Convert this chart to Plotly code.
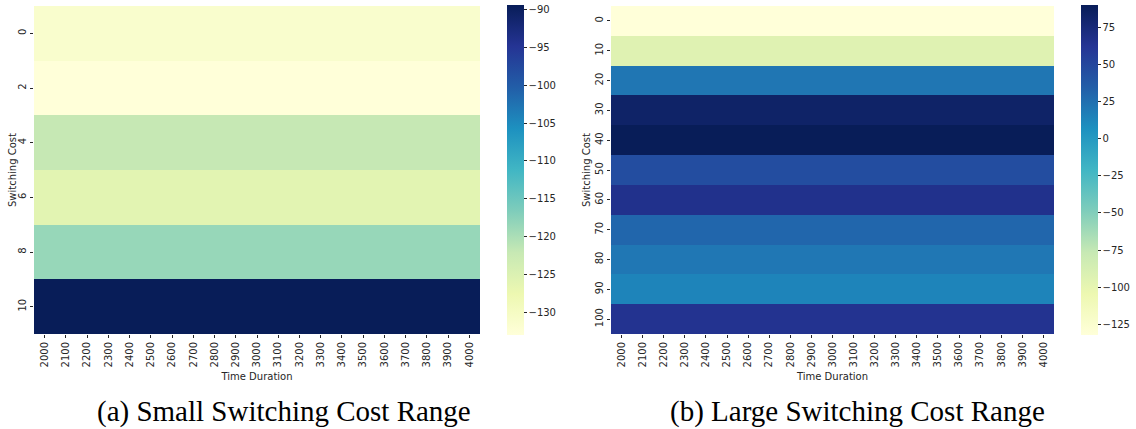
import plotly.graph_objects as go

time_duration = [str(t) for t in range(2000, 4001, 100)]

small_costs = ["0", "2", "4", "6", "8", "10"]
small_values = [-131.3, -133.0, -122.0, -126.0, -118.5, -89.4]

large_costs = ["0", "10", "20", "30", "40", "50", "60", "70", "80", "90", "100"]
large_values = [-132.2, -94.0, 21.5, 83.0, 90.0, 46.0, 66.0, 30.0, 21.0, 14.0, 64.0]

small_range = (-133.0, -89.4)
large_range = (-132.2, 90.0)

titles = ["(a) Small Switching Cost Range", "(b) Large Switching Cost Range"]
x_title = "Time Duration"
y_title = "Switching Cost"

ylgnbu = ["#ffffd9", "#edf8b1", "#c7e9b4", "#7fcdbb", "#41b6c4",
          "#1d91c0", "#225ea8", "#253494", "#081d58"]
colorscale = [[i / 8, c] for i, c in enumerate(ylgnbu)]

W, H = 1136, 429
def px(x):
    return x / W
def py(y):
    return 1 - y / H

fig = go.Figure()

tickfont = dict(family="DejaVu Sans", size=10, color="#262626")
titlefont = dict(family="DejaVu Sans", size=10, color="#262626")

def cbar(x_left, tick0, dtick):
    return dict(x=px(x_left), xanchor="left", thickness=17, len=330 / H,
                y=py(170), yanchor="middle", outlinewidth=0,
                xpad=0, ypad=0,
                ticks="outside", ticklen=3, tickcolor="#262626",
                tick0=tick0, dtick=dtick, tickfont=tickfont)

fig.add_trace(go.Heatmap(
    x=time_duration, y=small_costs,
    z=[[v] * len(time_duration) for v in small_values],
    colorscale=colorscale, zmin=small_range[0], zmax=small_range[1],
    xaxis="x", yaxis="y",
    colorbar=cbar(507, -130, 5),
))
fig.add_trace(go.Heatmap(
    x=time_duration, y=large_costs,
    z=[[v] * len(time_duration) for v in large_values],
    colorscale=colorscale, zmin=large_range[0], zmax=large_range[1],
    xaxis="x2", yaxis="y2",
    colorbar=cbar(1081, -125, 25),
))

axis_common = dict(showgrid=False, zeroline=False, showline=False,
                   ticks="outside", ticklen=3, tickcolor="#262626",
                   tickfont=tickfont, automargin=False)
ydom = [py(334), py(6)]

def ylab(x):
    return dict(text=y_title, x=px(x), y=py(170), xref="paper", yref="paper",
                xanchor="center", yanchor="middle", showarrow=False, textangle=-90,
                font=titlefont)

def cap(text, x):
    return dict(text=text, x=px(x), y=py(411), xref="paper", yref="paper",
                xanchor="center", yanchor="middle", showarrow=False,
                font=dict(family="Liberation Serif", size=29, color="black"))

fig.update_layout(
    width=W, height=H,
    margin=dict(l=0, r=0, t=0, b=0, autoexpand=False),
    paper_bgcolor="white", plot_bgcolor="white",
    xaxis=dict(domain=[px(34), px(480)], anchor="y", tickangle=-90,
               title=dict(text=x_title, font=titlefont, standoff=6),
               **axis_common),
    yaxis=dict(domain=ydom, anchor="x", autorange="reversed", tickangle=-90,
               **axis_common),
    xaxis2=dict(domain=[px(611), px(1054)], anchor="y2", tickangle=-90,
                title=dict(text=x_title, font=titlefont, standoff=6),
                **axis_common),
    yaxis2=dict(domain=ydom, anchor="x2", autorange="reversed", tickangle=-90,
                **axis_common),
    annotations=[ylab(12), ylab(586), cap(titles[0], 284), cap(titles[1], 857)],
)

fig.write_html(
    "out.html",
    config={"displayModeBar": False},
    post_script="document.body.style.margin='0px';document.body.style.overflow='hidden';",
)
